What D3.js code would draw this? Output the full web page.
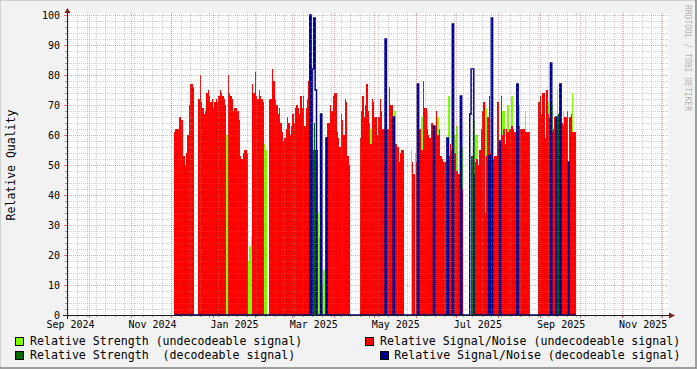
<!DOCTYPE html>
<html>
<head>
<meta charset="utf-8">
<script src="https://cdn.jsdelivr.net/npm/d3@7"></script>
<style>
  html, body { margin: 0; padding: 0; background: #f2f2f2; }
  svg { display: block; font-family: "DejaVu Sans Mono", monospace; }
</style>
</head>
<body>
<div id="chart"></div>
<script>
// time window of the graph and first day of the series
const timeStart = new Date(2024, 8, 14, 10, 0);
const timeEnd = new Date(2025, 11, 5, 11, 0);
const seriesStart = new Date(2024, 11, 3);

const yTicks = [0, 10, 20, 30, 40, 50, 60, 70, 80, 90, 100];
const xLabels = ["Sep 2024", "Nov 2024", "Jan 2025", "Mar 2025", "May 2025", "Jul 2025", "Sep 2025", "Nov 2025"];

// daily values, day 0 = seriesStart
const snrUndecodeable = [
  61, 62, 62, 62, 66, 65, 65, 53, 50, 54,
  60, 70, 77, 77, 76, 0, 0, 0, 72, 80,
  71, 69, 67, 68, 74, 75, 73, 71, 72, 69,
  71, 72, 71, 73, 75, 74, 73, 72, 70, 0,
  80, 74, 73, 72, 68, 69, 69, 68, 65, 53,
  52, 54, 55, 55, 54, 0, 0, 0, 77, 74,
  81, 73, 72, 75, 73, 72, 71, 0, 0, 0,
  0, 72, 72, 82, 78, 72, 70, 67, 69, 64,
  61, 58, 59, 62, 66, 64, 60, 63, 67, 64,
  69, 70, 69, 67, 73, 69, 73, 63, 69, 72,
  78, 0, 0, 0, 0, 0, 0, 0, 0, 0,
  0, 0, 0, 0, 64, 64, 70, 68, 73, 74,
  74, 61, 59, 56, 67, 65, 60, 72, 71, 53,
  50, 0, 0, 0, 0, 0, 0, 0, 59, 68,
  73, 66, 70, 77, 68, 64, 57, 72, 71, 66,
  66, 60, 66, 72, 68, 62, 62, 0, 62, 62,
  76, 70, 70, 0, 57, 57, 56, 51, 54, 55,
  55, 0, 0, 0, 0, 0, 0, 51, 47, 0,
  51, 0, 62, 62, 55, 78, 69, 69, 62, 60,
  59, 64, 64, 0, 63, 68, 60, 62, 53, 52,
  51, 51, 0, 0, 0, 57, 55, 0, 54, 54,
  48, 47, 47, 0, 42, 0, 0, 0, 0, 0,
  0, 0, 0, 0, 51, 52, 50, 55, 62, 68,
  71, 34, 53, 66, 0, 54, 0, 52, 53, 53,
  71, 71, 0, 0, 60, 62, 57, 62, 61, 62,
  62, 63, 62, 61, 61, 0, 63, 62, 62, 62,
  62, 61, 61, 61, 61, 0, 0, 0, 0, 0,
  0, 71, 73, 67, 74, 74, 59, 75, 67, 66,
  0, 61, 62, 66, 0, 62, 0, 0, 64, 63,
  66, 66, 68, 0, 66, 67, 61, 61, 61
];

// [day, value] for the other series (0 on every other day)
const strengthUndecodeable = [
  [39, 60], [55, 18], [56, 23], [57, 26], [67, 57], [68, 55], [102, 26], [107, 34],
  [108, 26], [110, 10], [111, 15], [112, 26], [146, 62], [164, 68], [176, 55], [179, 54],
  [184, 66], [188, 68], [196, 66], [204, 73], [208, 60], [209, 60], [210, 63], [214, 56],
  [223, 65], [224, 60], [225, 60], [231, 71], [232, 69], [244, 68], [245, 68], [248, 70],
  [251, 73], [256, 70], [261, 68], [271, 66], [277, 71], [278, 71], [281, 70], [285, 75],
  [289, 68], [296, 74]
];
const strengthDecodeable = [
  [103, 55], [104, 64], [105, 55], [106, 55], [203, 53], [204, 53], [221, 53], [222, 53],
  [223, 47], [234, 73], [243, 73], [286, 67], [293, 50]
];
const snrDecodeable = [
  [101, 100], [103, 82], [104, 99], [105, 75], [109, 67], [113, 59], [157, 92], [163, 66],
  [181, 77], [193, 63], [203, 59], [207, 97], [213, 73], [220, 67], [221, 82], [222, 82],
  [234, 53], [236, 99], [242, 58], [255, 77], [280, 84], [284, 66], [287, 77], [293, 51]
];

const legendItems = [
  { label: "Relative Strength (undecodeable signal)", color: "#80ff00" },
  { label: "Relative Signal/Noise (undecodeable signal)", color: "#ff0000" },
  { label: "Relative Strength  (decodeable signal)", color: "#006600" },
  { label: "Relative Signal/Noise (decodeable signal)", color: "#000090" }
];

const width = 697, height = 369;
const pLeft = 67, pRight = 668, pTop = 15, pBottom = 315;

const svg = d3.select("#chart").append("svg")
  .attr("width", width).attr("height", height);

svg.append("rect").attr("width", width).attr("height", height).attr("fill", "#f2f2f2");
// frame shading
svg.append("path").attr("d", `M0,${height} V0 H${width}`)
  .attr("fill", "none").attr("stroke", "#cfcfcf").attr("stroke-width", 2);
svg.append("path").attr("d", `M0,${height - 1} H${width - 1} V0`)
  .attr("fill", "none").attr("stroke", "#9e9e9e").attr("stroke-width", 2);

const x = d3.scaleTime().domain([timeStart, timeEnd]).range([pLeft, pRight]);
const y = d3.scaleLinear().domain([0, 100]).range([pBottom, pTop]);

svg.append("rect").attr("x", pLeft).attr("y", pTop - 2)
  .attr("width", pRight - pLeft + 1).attr("height", pBottom - pTop + 2).attr("fill", "#fff");

const n = snrUndecodeable.length;
function dense(pairs) {
  const arr = new Array(n).fill(0);
  pairs.forEach(([i, v]) => { arr[i] = v; });
  return arr;
}
function steps(vals) {
  const pts = vals.map((v, i) => ({ t: d3.timeDay.offset(seriesStart, i), v }));
  pts.push({ t: d3.timeDay.offset(seriesStart, vals.length), v: vals[vals.length - 1] });
  return pts;
}

const area = d3.area().curve(d3.curveStepAfter)
  .x(d => x(d.t)).y0(y(0)).y1(d => y(d.v));
const line = d3.line().curve(d3.curveStepAfter)
  .x(d => x(d.t)).y(d => y(d.v));

const g = svg.append("g");
g.append("path").attr("d", area(steps(dense(strengthUndecodeable))))
  .attr("fill", legendItems[0].color).attr("shape-rendering", "crispEdges");
g.append("path").attr("d", area(steps(dense(strengthDecodeable))))
  .attr("fill", legendItems[2].color).attr("shape-rendering", "crispEdges");
g.append("path").attr("d", area(steps(snrUndecodeable)))
  .attr("fill", legendItems[1].color).attr("shape-rendering", "crispEdges");
g.append("path").attr("d", line(steps(dense(snrDecodeable))))
  .attr("fill", "none").attr("stroke", legendItems[3].color).attr("stroke-width", 1.5);

// grid on top of the data, like rrdtool
const minorColor = "rgba(143,143,143,0.4)";
const majorColor = "rgba(200,60,60,0.42)";
const grid = svg.append("g").attr("shape-rendering", "crispEdges");
const px = v => Math.round(v) + 0.5;

const minorY = d3.range(2, 100, 2).filter(v => v % 10 !== 0);
grid.selectAll(".hmin").data(minorY).enter().append("line")
  .attr("x1", pLeft).attr("x2", pRight + 1)
  .attr("y1", d => px(y(d))).attr("y2", d => px(y(d)))
  .attr("stroke", minorColor).attr("stroke-dasharray", "1,1");
const weeks = d3.timeWeek.range(timeStart, timeEnd);
grid.selectAll(".vmin").data(weeks).enter().append("line")
  .attr("x1", d => px(x(d))).attr("x2", d => px(x(d)))
  .attr("y1", pTop - 2).attr("y2", pBottom)
  .attr("stroke", minorColor).attr("stroke-dasharray", "1,1");
grid.selectAll(".hmaj").data(yTicks.slice(1)).enter().append("line")
  .attr("x1", pLeft).attr("x2", pRight + 1)
  .attr("y1", d => px(y(d))).attr("y2", d => px(y(d)))
  .attr("stroke", majorColor).attr("stroke-dasharray", "1,1");
const months = d3.timeMonth.range(timeStart, timeEnd);
grid.selectAll(".vmaj").data(months).enter().append("line")
  .attr("x1", d => px(x(d))).attr("x2", d => px(x(d)))
  .attr("y1", pTop - 2).attr("y2", pBottom)
  .attr("stroke", majorColor).attr("stroke-dasharray", "1,1");

// tick marks outside the plot
grid.selectAll(".ytmin").data(minorY).enter().append("line")
  .attr("x1", pLeft - 2).attr("x2", pLeft)
  .attr("y1", d => px(y(d))).attr("y2", d => px(y(d))).attr("stroke", "#999");
grid.selectAll(".ytmaj").data(yTicks).enter().append("line")
  .attr("x1", pLeft - 3).attr("x2", pLeft)
  .attr("y1", d => px(y(d))).attr("y2", d => px(y(d))).attr("stroke", "#d07070");
grid.selectAll(".xtmin").data(weeks).enter().append("line")
  .attr("x1", d => px(x(d))).attr("x2", d => px(x(d)))
  .attr("y1", pBottom).attr("y2", pBottom + 2).attr("stroke", "#999");
grid.selectAll(".xtmaj").data(months).enter().append("line")
  .attr("x1", d => px(x(d))).attr("x2", d => px(x(d)))
  .attr("y1", pBottom).attr("y2", pBottom + 3).attr("stroke", "#d07070");

// axes with arrows
const axisColor = "#1f1f1f", arrowColor = "#801f1f";
svg.append("line").attr("x1", pLeft - 4).attr("x2", pRight + 1)
  .attr("y1", pBottom + 0.5).attr("y2", pBottom + 0.5)
  .attr("stroke", axisColor).attr("shape-rendering", "crispEdges");
svg.append("line").attr("x1", pLeft + 0.5).attr("x2", pLeft + 0.5)
  .attr("y1", pBottom + 4).attr("y2", pTop - 3)
  .attr("stroke", axisColor).attr("shape-rendering", "crispEdges");
svg.append("path")
  .attr("d", `M${pRight + 7},${pBottom + 0.5} L${pRight + 1},${pBottom - 2.5} L${pRight + 1},${pBottom + 3.5} Z`)
  .attr("fill", arrowColor);
svg.append("path")
  .attr("d", `M${pLeft + 0.5},${pTop - 7} L${pLeft - 2.5},${pTop - 2} L${pLeft + 3.5},${pTop - 2} Z`)
  .attr("fill", arrowColor);

// y labels
svg.append("g").selectAll("text").data(yTicks).enter().append("text")
  .attr("x", pLeft - 7).attr("y", d => y(d) + 3.5)
  .attr("text-anchor", "end").style("font-size", "10px").attr("fill", "#000")
  .text(d => d);

// x labels, centred half a month after the month start
const parseMonth = d3.timeParse("%b %Y");
svg.append("g").selectAll("text").data(xLabels).enter().append("text")
  .attr("x", d => x(d3.timeHour.offset(parseMonth(d), 16 * 24)))
  .attr("y", pBottom + 13)
  .attr("text-anchor", "middle").style("font-size", "10px").attr("fill", "#000")
  .text(d => d);

// y title
svg.append("text")
  .attr("transform", `translate(15,${(pTop + pBottom) / 2}) rotate(-90)`)
  .attr("text-anchor", "middle").style("font-size", "11.5px").attr("fill", "#000")
  .text("Relative Quality");

// watermark
svg.append("text")
  .attr("transform", "translate(684.5,5) rotate(90)")
  .attr("text-anchor", "start").style("font-size", "8px").attr("fill", "rgba(0,0,0,0.3)")
  .text("RRDTOOL / TOBI OETIKER");

// legend
const legendPos = [
  { bx: 15.5, tx: 30, ty: 345 },
  { bx: 365.5, tx: 380, ty: 345 },
  { bx: 15.5, tx: 30, ty: 359 },
  { bx: 380.5, tx: 394.3, ty: 359 }
];
const lg = svg.append("g");
legendItems.forEach((d, i) => {
  const p = legendPos[i];
  lg.append("rect").attr("x", p.bx).attr("y", p.ty - 7.5).attr("width", 8).attr("height", 8)
    .attr("fill", d.color).attr("stroke", "#000").attr("stroke-width", 1)
    .attr("shape-rendering", "crispEdges");
  lg.append("text").attr("x", p.tx).attr("y", p.ty)
    .style("font-size", "11.6px").attr("fill", "#000")
    .attr("xml:space", "preserve").style("white-space", "pre")
    .text(d.label);
});
</script>
</body>
</html>
